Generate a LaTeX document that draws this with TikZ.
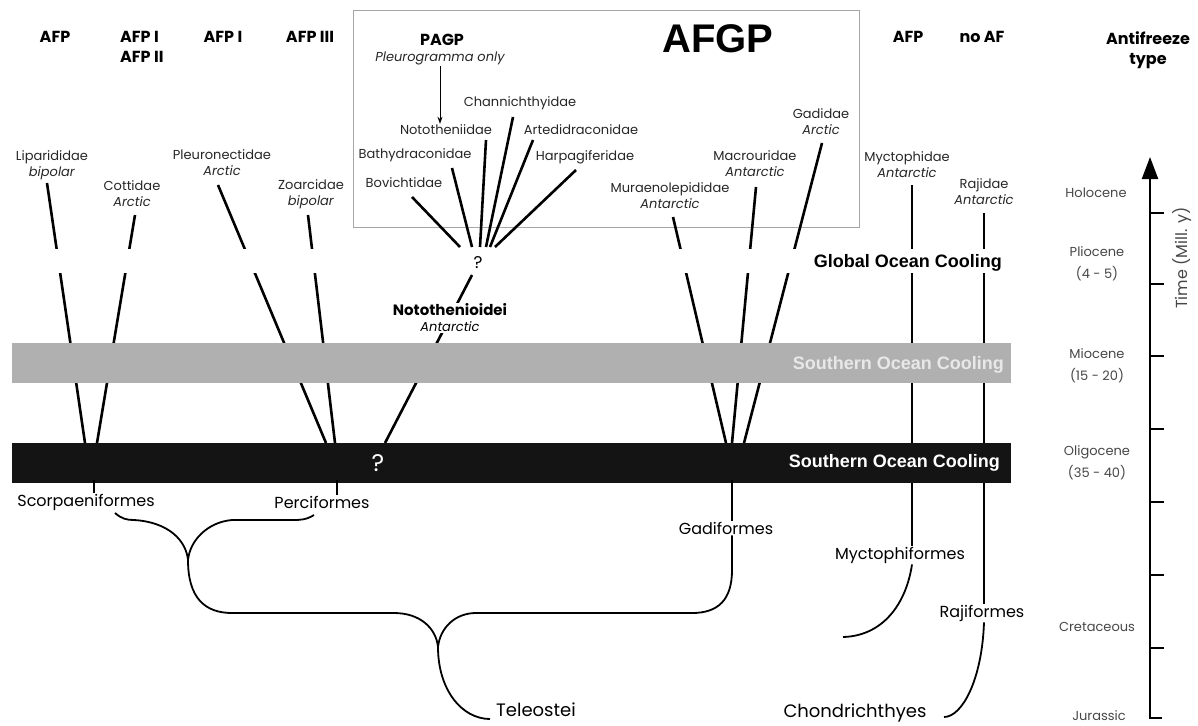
\documentclass[tikz,border=0pt]{standalone}
\usepackage{fontspec}
\setmainfont{Poppins}
\newfontfamily\helvfont{Liberation Sans}
\usetikzlibrary{arrows.meta}

\tikzset{
  famlabel/.style={font=\fontsize{13}{16}\selectfont, align=center, inner sep=1pt, text=black!85},
  hdrlabel/.style={font=\fontsize{16}{20}\selectfont\bfseries, align=center, inner sep=0pt},
  ordlabel/.style={font=\fontsize{16}{18}\selectfont, inner sep=1pt},
  epochlabel/.style={font=\fontsize{13}{22}\selectfont, align=center, text=black!72, inner sep=0pt},
  coolinglabel/.style={font=\helvfont\fontsize{18}{20}\selectfont\bfseries, anchor=east, inner sep=0pt},
  lineage/.style={line width=2.6pt},
  branch/.style={line width=1.8pt},
}

\begin{document}
\begin{tikzpicture}[x=1pt,y=-1pt]
\useasboundingbox (0,0) rectangle (1198,725);

% AFGP box
\draw[gray!70, line width=0.8pt] (353,10) rectangle (859,227);

% antifreeze types
\node[hdrlabel] (tafp) at (55,37) {AFP};
\node[hdrlabel, anchor=west, align=left] (tafpb) at (120,47) {AFP I\\AFP II};
\node[hdrlabel] (tafpc) at (223,37) {AFP I};
\node[hdrlabel] (tafpd) at (310,37) {AFP III};
\node[hdrlabel] (tpagp) at (442,40) {PAGP};
\node[famlabel, font=\fontsize{13}{16}\selectfont\itshape] (tpleu) at (440,58) {Pleurogramma only};
\node[font=\helvfont\fontsize{40}{44}\selectfont\bfseries, inner sep=0pt] (tafgp) at (718,39) {AFGP};
\node[hdrlabel] (tafpe) at (908,37) {AFP};
\node[hdrlabel] (tnoaf) at (982,37) {no AF};
\node[hdrlabel] (ttype) at (1148,50) {Antifreeze\\type};

% families
\node[famlabel] (lip) at (52,165) {Liparididae\\\textit{bipolar}};
\node[famlabel] (cot) at (132,194) {Cottidae\\\textit{Arctic}};
\node[famlabel] (ple) at (222,163) {Pleuronectidae\\\textit{Arctic}};
\node[famlabel] (zoa) at (311,194) {Zoarcidae\\\textit{bipolar}};
\node[famlabel] (cha) at (520,103) {Channichthyidae};
\node[famlabel] (not) at (446,130) {Nototheniidae};
\node[famlabel] (art) at (581,130) {Artedidraconidae};
\node[famlabel] (bat) at (415,155) {Bathydraconidae};
\node[famlabel] (har) at (585,157) {Harpagiferidae};
\node[famlabel] (bov) at (404,183) {Bovichtidae};
\node[famlabel] (mur) at (670,196) {Muraenolepididae\\\textit{Antarctic}};
\node[famlabel] (mac) at (755,164) {Macrouridae\\\textit{Antarctic}};
\node[famlabel] (gad) at (821,122) {Gadidae\\\textit{Arctic}};
\node[famlabel] (myc) at (907,165) {Myctophidae\\\textit{Antarctic}};
\node[famlabel] (raj) at (984,192) {Rajidae\\\textit{Antarctic}};

\draw[line width=0.8pt, -{Stealth[length=7pt,width=5pt]}] (tpleu.south) -- (tpleu.south |- not.north);

% orders
\node[ordlabel] (scp) at (86,502) {Scorpaeniformes};
\node[ordlabel] (per) at (322,502) {Perciformes};
\node[ordlabel] (gdf) at (726,528) {Gadiformes};
\node[ordlabel] (mcf) at (900,555) {Myctophiformes};
\node[ordlabel] (rjf) at (982,613) {Rajiformes};
\node[ordlabel, font=\fontsize{18}{20}\selectfont] (tel) at (536,710) {Teleostei};
\node[ordlabel, font=\fontsize{18}{20}\selectfont] (chd) at (855,713) {Chondrichthyes};

% lineage ends
\coordinate (lipT) at (47,183);   \coordinate (lipB) at (85,443);
\coordinate (cotT) at (135,215);  \coordinate (cotB) at (97,443);
\coordinate (pleT) at (218,185);  \coordinate (pleB) at (326,443);
\coordinate (zoaT) at (308,215);  \coordinate (zoaB) at (335,443);
\coordinate (bovT) at (412,197);  \coordinate (bovB) at (460,247);
\coordinate (batT) at (452,168);  \coordinate (batB) at (472,247);
\coordinate (notT) at (486,140);  \coordinate (notB) at (480,247);
\coordinate (chaT) at (513,117);  \coordinate (chaB) at (486,247);
\coordinate (artT) at (533,140);  \coordinate (artB) at (490,247);
\coordinate (harT) at (576,170);  \coordinate (harB) at (495,247);
\coordinate (ntoT) at (472,275);  \coordinate (ntoB) at (385,443);
\coordinate (murT) at (673,217);  \coordinate (murB) at (726,443);
\coordinate (macT) at (756,187);  \coordinate (macB) at (732,443);
\coordinate (gadT) at (822,143);  \coordinate (gadB) at (744,443);
\coordinate (mycT) at (912,185);
\coordinate (rajT) at (984,213);

\foreach \n in {lip,cot,ple,zoa,bov,bat,not,cha,art,har,nto,mur,mac,gad}
  \draw[lineage] (\n T) -- (\n B);
\draw[lineage] (mycT) -- (mycT |- mcf.north);
\draw[lineage] (rajT) -- (rajT |- rjf.north);

% gap and cooling bands
\fill[white] (0,249) rectangle (1040,273);
\fill[gray!62] (12,343) rectangle (1011,383);
\fill[black!92] (12,443) rectangle (1011,483);

\node[coolinglabel, text=black] (gcool) at (1002,263) {Global Ocean Cooling};
\node[coolinglabel, text=gray!18] (scoola) at (1004,365) {Southern Ocean Cooling};
\node[coolinglabel, text=white] (scoolb) at (1000,463) {Southern Ocean Cooling};

\node[font=\fontsize{17}{18}\selectfont, inner sep=0pt] (qfan) at (478,263) {?};
\node[font=\fontsize{24}{26}\selectfont, text=white, inner sep=0pt] (qper) at (378,463) {?};
\node[famlabel, fill=white, text=black] (nto) at (450,318) {{\bfseries\fontsize{15}{17}\selectfont Notothenioidei}\\\textit{Antarctic}};

% tree below the bands
\coordinate (scpS) at (94,480);
\coordinate (perS) at (337,480);
\coordinate (gdfS) at (732,480);
\coordinate (scpC) at (115,513);
\coordinate (perC) at (314,515);
\coordinate (vjoin) at (188,560);
\coordinate (hleft) at (394,613);
\coordinate (hright) at (476,613);
\coordinate (vtel) at (438,647);
\coordinate (telC) at (490,719);
\coordinate (mcfE) at (843,637);
\coordinate (chdE) at (944,717);

\draw[branch] (scpS) -- (scpS |- scp.north);
\draw[branch] (perS) -- (perS |- per.north);
\draw[branch] (scpC) .. controls (122,519) and (127,520) .. (134,520)
  .. controls (168,522) and (186,540) .. (vjoin);
\draw[branch] (perC) .. controls (306,520) and (300,520) .. (292,520) -- (232,520)
  .. controls (208,522) and (190,540) .. (vjoin);
\draw[branch] (vjoin) .. controls (188,598) and (205,613) .. (232,613) -- (hleft)
  .. controls (420,613) and (436,628) .. (vtel);
\draw[branch] (gdfS) -- (gdfS |- gdf.north);
\draw[branch] (gdfS |- gdf.south) -- (732,570) .. controls (732,600) and (718,613) .. (692,613)
  -- (hright) .. controls (455,613) and (440,628) .. (vtel);
\draw[branch] (vtel) .. controls (438,690) and (462,719) .. (telC);
\draw[branch] (mycT |- mcf.south) .. controls (906,605) and (882,636) .. (mcfE);
\draw[branch] (rajT |- rjf.south) .. controls (982,680) and (962,717) .. (chdE);

% time axis
\draw[line width=2.2pt, -{Triangle[length=22pt,width=16pt]}] (1150,719) coordinate (axB) -- (1150,157) coordinate (axT);
\foreach \y in {213,284,356,429,502,575,648}
  \draw[line width=1.8pt] (1150,\y) -- (1164,\y);
\draw[line width=1.8pt] (1149,718) -- (1162,718);

\node[epochlabel] (hol) at (1096,193) {Holocene};
\node[epochlabel] (pli) at (1097,264) {Pliocene\\(4 - 5)};
\node[epochlabel] (mio) at (1097,366) {Miocene\\(15 - 20)};
\node[epochlabel] (oli) at (1097,463) {Oligocene\\(35 - 40)};
\node[epochlabel] (cre) at (1097,627) {Cretaceous};
\node[epochlabel] (jur) at (1099,716) {Jurassic};
\node[epochlabel, rotate=90, font=\fontsize{16}{18}\selectfont] (time) at (1182,258) {Time (Mill. y)};
\end{tikzpicture}
\end{document}
